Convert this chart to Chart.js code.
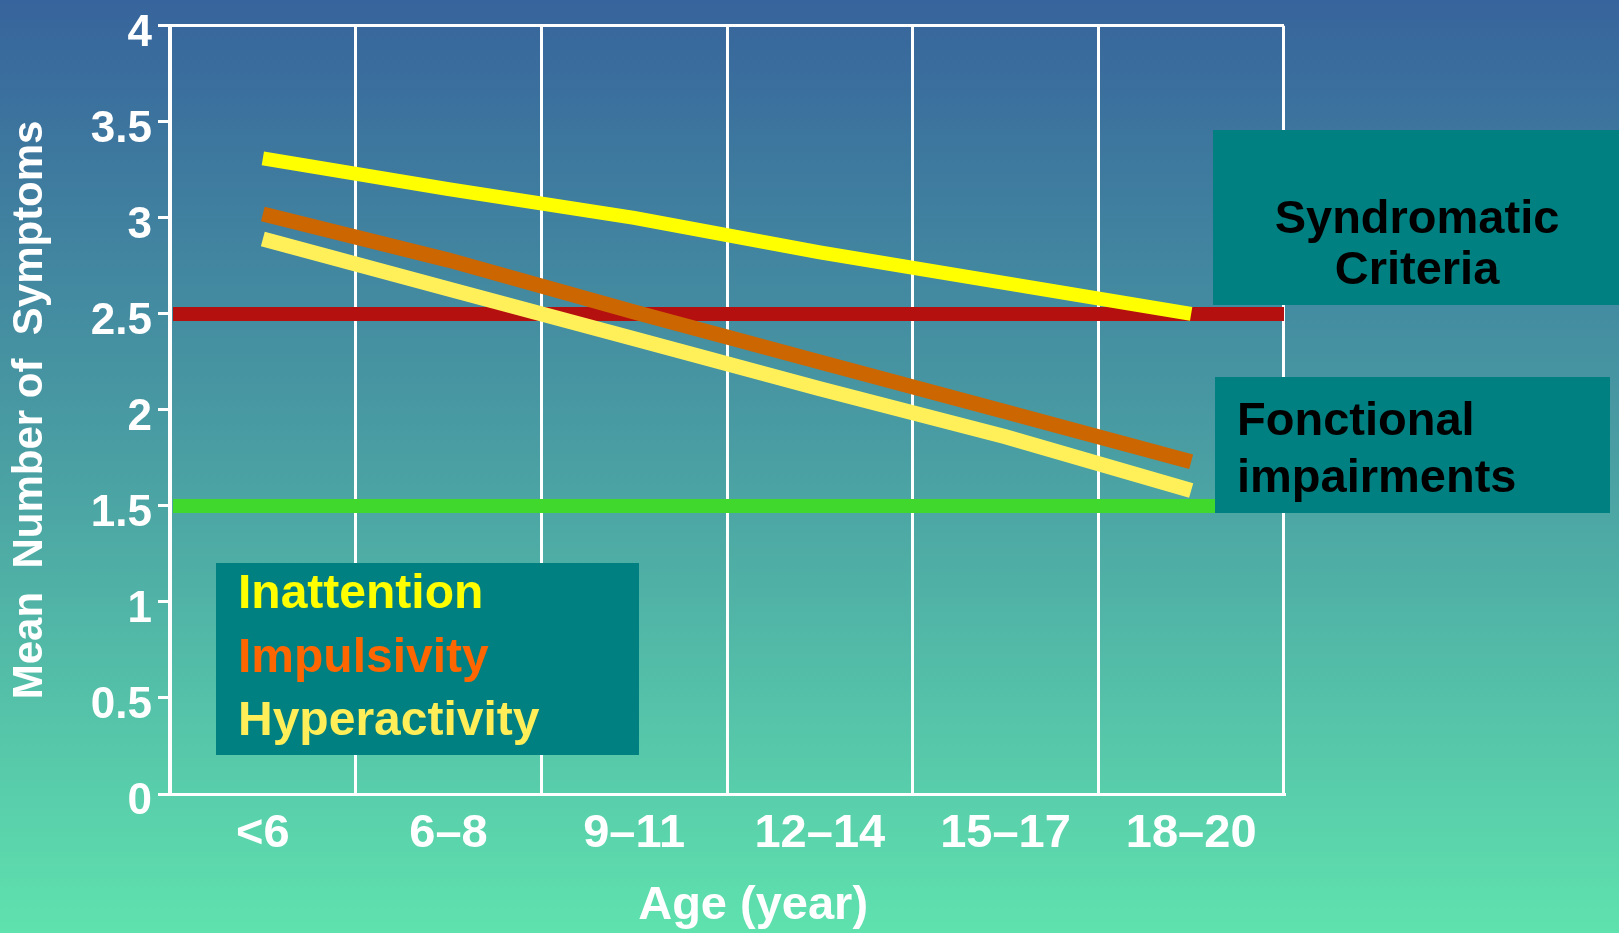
<!DOCTYPE html>
<html>
<head>
<meta charset="utf-8">
<script src="https://cdn.jsdelivr.net/npm/chart.js@4/dist/chart.umd.min.js"></script>
<style>
  html, body { margin: 0; padding: 0; overflow: hidden; background: #4ba3a5; }
  canvas { display: block; }
</style>
</head>
<body>
<canvas id="chart" width="1619" height="933"></canvas>
<script>
// Age groups on the x axis
const ageGroups = ['<6', '6–8', '9–11', '12–14', '15–17', '18–20'];

// Mean number of symptoms per dimension
const inattention   = [3.31, 3.15, 3.00, 2.82, 2.66, 2.50];
const impulsivity   = [3.02, 2.78, 2.51, 2.25, 1.99, 1.73];
const hyperactivity = [2.89, 2.63, 2.37, 2.11, 1.86, 1.58];

// y axis tick values
const yTicks = [0, 0.5, 1, 1.5, 2, 2.5, 3, 3.5, 4];

// Threshold levels
const syndromaticLevel = 2.5;
const functionalLevel = 1.5;

// Callout texts
const syndromaticText = ['Syndromatic', 'Criteria'];
const functionalText = ['Fonctional', 'impairments'];

const FONT = "'Liberation Sans', Arial, Helvetica, sans-serif";

const backgroundPlugin = {
  id: 'background',
  beforeDraw(chart) {
    const { ctx, width, height } = chart;
    const g = ctx.createLinearGradient(0, 0, 0, height);
    g.addColorStop(0, '#37649c');
    g.addColorStop(0.5, '#4aa0a3');
    g.addColorStop(1, '#5fe2ae');
    ctx.save();
    ctx.fillStyle = g;
    ctx.fillRect(0, 0, width, height);
    ctx.restore();
  }
};

const thresholdPlugin = {
  id: 'thresholds',
  beforeDatasetsDraw(chart) {
    const { ctx, chartArea, scales } = chart;
    const lines = [
      { value: syndromaticLevel, color: '#b51010' },
      { value: functionalLevel, color: '#40d82c' }
    ];
    ctx.save();
    ctx.lineWidth = 14;
    ctx.lineCap = 'butt';
    for (const l of lines) {
      const y = scales.y.getPixelForValue(l.value);
      ctx.strokeStyle = l.color;
      ctx.beginPath();
      ctx.moveTo(chartArea.left + 3, y);
      ctx.lineTo(chartArea.right, y);
      ctx.stroke();
    }
    ctx.restore();
  }
};

const calloutPlugin = {
  id: 'callouts',
  afterDraw(chart) {
    const { ctx } = chart;
    ctx.save();
    ctx.fillStyle = '#008080';

    // series key box
    ctx.fillRect(216, 563, 423, 192);
    ctx.font = 'bold 48px ' + FONT;
    ctx.textAlign = 'left';
    ctx.textBaseline = 'alphabetic';
    chart.data.datasets.forEach((ds, i) => {
      ctx.fillStyle = ds.keyColor;
      ctx.fillText(ds.label, 238, 608 + i * 63.5);
    });

    // Syndromatic criteria box
    ctx.fillStyle = '#008080';
    ctx.fillRect(1213, 130, 420, 175);
    ctx.fillStyle = '#000000';
    ctx.font = 'bold 47px ' + FONT;
    ctx.textAlign = 'center';
    ctx.fillText(syndromaticText[0], 1417, 233);
    ctx.fillText(syndromaticText[1], 1417, 284);

    // Functional impairments box
    ctx.fillStyle = '#008080';
    ctx.fillRect(1215, 377, 395, 136);
    ctx.fillStyle = '#000000';
    ctx.textAlign = 'left';
    ctx.fillText(functionalText[0], 1237, 435);
    ctx.fillText(functionalText[1], 1237, 492);
    ctx.restore();
  }
};

new Chart(document.getElementById('chart'), {
  type: 'line',
  data: {
    labels: ageGroups,
    datasets: [
      { label: 'Inattention', data: inattention, borderColor: '#ffff00', keyColor: '#ffff00', borderWidth: 14 },
      { label: 'Impulsivity', data: impulsivity, borderColor: '#cc6600', keyColor: '#ff6600', borderWidth: 15 },
      { label: 'Hyperactivity', data: hyperactivity, borderColor: '#fff05a', keyColor: '#ffee58', borderWidth: 15 }
    ].map(d => Object.assign(d, {
      fill: false, tension: 0, pointRadius: 0, pointHoverRadius: 0,
      borderCapStyle: 'butt', borderJoinStyle: 'miter'
    }))
  },
  options: {
    responsive: false,
    animation: false,
    devicePixelRatio: 1,
    events: [],
    layout: { padding: { left: 5, right: 335, top: 21, bottom: 3 } },
    plugins: { legend: { display: false }, tooltip: { enabled: false } },
    scales: {
      x: {
        offset: true,
        grid: { offset: true, color: '#ffffff', lineWidth: 3, drawTicks: false },
        border: { display: true, color: '#ffffff', width: 3 },
        ticks: { color: '#ffffff', font: { family: FONT, size: 47, weight: 'bold', lineHeight: 1.2 }, padding: 12, maxRotation: 0, autoSkip: false },
        title: { display: true, text: '    Age (year)', color: '#ffffff', font: { family: FONT, size: 47, weight: 'bold', lineHeight: 1 }, padding: { top: 0, bottom: 0 } },
        afterFit(scale) { scale.height = 136; }
      },
      y: {
        min: 0,
        max: 4,
        afterBuildTicks(scale) { scale.ticks = yTicks.map(v => ({ value: v })); },
        grid: {
          color: c => (c.tick && c.tick.value === 4 ? '#ffffff' : 'rgba(0,0,0,0)'),
          tickColor: '#ffffff',
          lineWidth: 3,
          drawTicks: true,
          tickLength: 12
        },
        border: { display: true, color: '#ffffff', width: 3 },
        ticks: {
          color: '#ffffff',
          font: { family: FONT, size: 44, weight: 'bold', lineHeight: 0.9 },
          padding: 6,
          labelOffset: 8,
          callback: v => String(v)
        },
        title: { display: true, text: 'Mean  Number of  Symptoms', color: '#ffffff', font: { family: FONT, size: 42, weight: 'bold', lineHeight: 1 }, padding: { top: 4, bottom: 0 } },
        afterFit(scale) { scale.width = 165; }
      }
    }
  },
  plugins: [backgroundPlugin, thresholdPlugin, calloutPlugin]
});
</script>
</body>
</html>
